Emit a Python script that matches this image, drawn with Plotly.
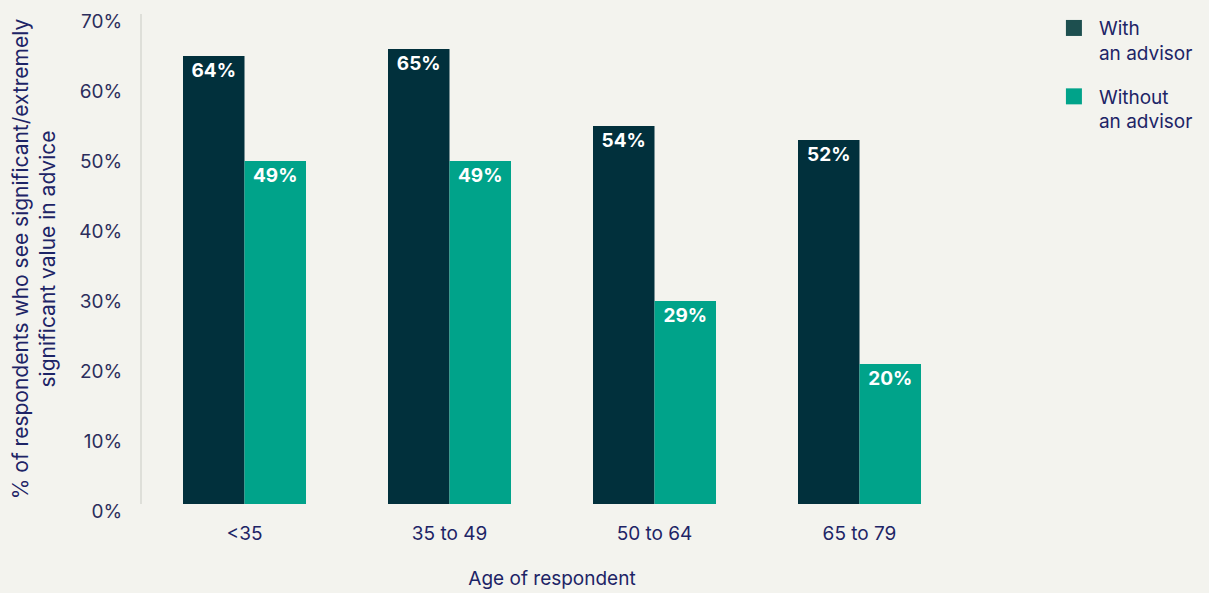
import plotly.graph_objects as go

categories = ["<35", "35 to 49", "50 to 64", "65 to 79"]
with_advisor = [64, 65, 54, 52]
without_advisor = [49, 49, 29, 20]
series_names = ["With<br>an advisor", "Without<br>an advisor"]
y_ticks = [0, 10, 20, 30, 40, 50, 60, 70]
y_tick_labels = [f"{v}%" for v in y_ticks]

DARK = "#01303c"
DARK_LEGEND = "#1d4f4f"
TEAL = "#00a38a"
BG = "#f3f3ee"
FONT = "Inter, Roboto, Liberation Sans, Arial, sans-serif"
NAVY = "#1d2466"
TICK = "#2b2d5c"

fig = go.Figure()
for name, vals, col in [(series_names[0], with_advisor, DARK), (series_names[1], without_advisor, TEAL)]:
    fig.add_trace(go.Bar(
        x=categories, y=vals, name=name, showlegend=False,
        marker=dict(color=col, line=dict(width=0)),
        text=[f"{v}%" for v in vals],
        textposition="inside", insidetextanchor="end",
        textfont=dict(color="white", size=19, family=FONT, weight="bold"),
        textangle=0,
    ))

# legend entries (large square swatches)
for i, (name, col) in enumerate([(series_names[0], DARK_LEGEND), (series_names[1], TEAL)]):
    fig.add_trace(go.Scatter(
        x=[None], y=[None], mode="markers", name=name, legendgroup=f"g{i}",
        marker=dict(symbol="square", size=18, color=col),
        showlegend=True,
    ))

fig.update_layout(
    barmode="group", bargap=0.4, bargroupgap=0,
    width=1209, height=593,
    paper_bgcolor=BG, plot_bgcolor=BG,
    margin=dict(l=142, r=247, t=14, b=89, autoexpand=False),
    font=dict(family=FONT, color=TICK, size=18),
    uniformtext=dict(minsize=19, mode="show"),
    legend=dict(x=1.106, y=1.01, xanchor="left", yanchor="top", valign="top",
                font=dict(size=19, color=NAVY, family=FONT),
                bgcolor="rgba(0,0,0,0)", tracegroupgap=16,
                itemwidth=40),
    xaxis=dict(range=[-0.5, 3.5], showline=False, showgrid=False, ticks="",
               ticklabelstandoff=16, automargin=False,
               tickfont=dict(size=19, color=NAVY),
               title=dict(text="Age of respondent", font=dict(size=19, color=NAVY), standoff=27)),
    yaxis=dict(range=[0, 70], tickvals=y_ticks, ticktext=y_tick_labels,
               showgrid=False, zeroline=False, showline=True, linecolor="#dedfd9", linewidth=2,
               ticks="", ticklabelstandoff=14, ticklabelshift=7, automargin=False,
               tickfont=dict(size=19, color=TICK),
               title=dict(text="% of respondents who see significant/extremely<br>significant value in advice",
                          font=dict(size=21, color=NAVY), standoff=18)),
)

fig.write_html("out.html", config={"displayModeBar": False},
               post_script="document.body.style.margin='0';document.body.style.background='" + BG + "';")
